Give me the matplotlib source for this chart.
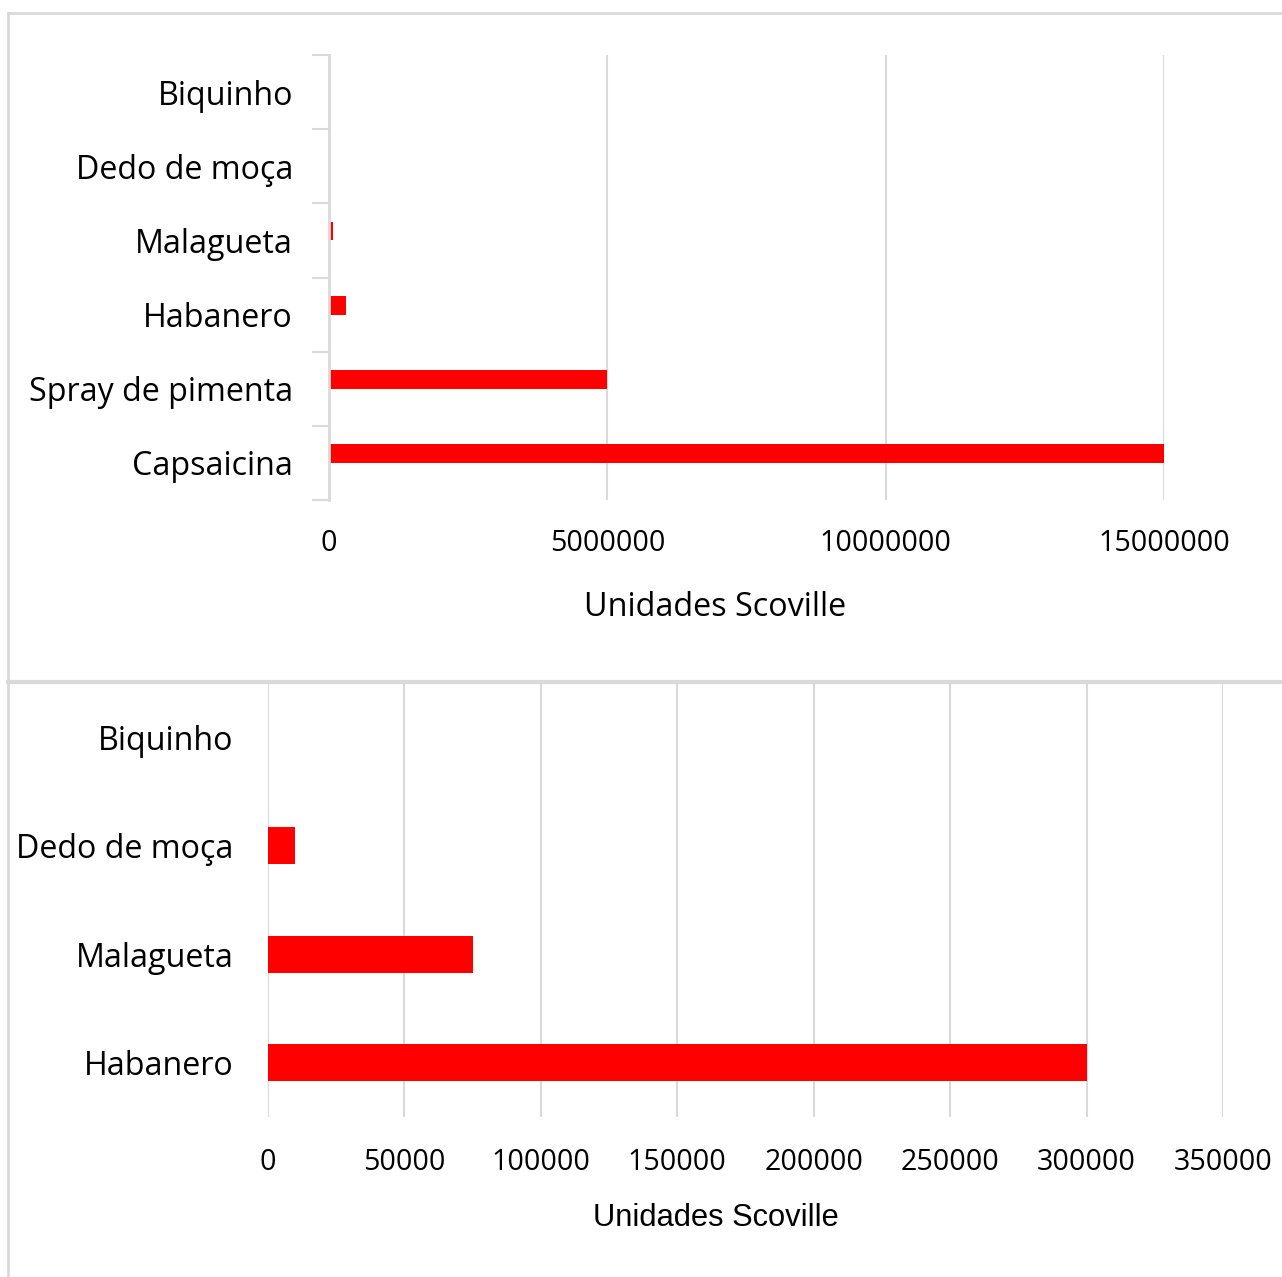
import matplotlib
matplotlib.use("Agg")
import matplotlib.pyplot as plt
from matplotlib.lines import Line2D
import numpy as np

# ---- data ----
top_categories = ["Capsaicina", "Spray de pimenta", "Habanero", "Malagueta", "Dedo de moça", "Biquinho"]
top_values = [15000000, 5000000, 300000, 75000, 10000, 0]
top_ticks = [0, 5000000, 10000000, 15000000]

bottom_categories = ["Habanero", "Malagueta", "Dedo de moça", "Biquinho"]
bottom_values = [300000, 75000, 10000, 0]
bottom_ticks = [0, 50000, 100000, 150000, 200000, 250000, 300000, 350000]

xlabel = "Unidades Scoville"

W, H = 1282, 1277
DPI = 100
fig = plt.figure(figsize=(W / DPI, H / DPI), dpi=DPI)
fig.patch.set_facecolor("white")

GRAY = "#d9d9d9"
RED = "#ff0000"
FONT = ["Open Sans", "DejaVu Sans"]
FS_CAT = 23.2
FS_TICK = 20.6
FS_LAB = 23.3


def px_axes(left, top, right, bottom):
    return fig.add_axes([left / W, 1 - bottom / H, (right - left) / W, (bottom - top) / H])


# frame lines
fig.add_artist(Line2D([8 / W, 1], [1 - 13 / H, 1 - 13 / H], color=GRAY, lw=2, transform=fig.transFigure))
fig.add_artist(Line2D([8 / W, 8 / W], [0, 1 - 13 / H], color=GRAY, lw=2, transform=fig.transFigure))
fig.add_artist(Line2D([8 / W, 1], [1 - 682 / H, 1 - 682 / H], color=GRAY, lw=3, transform=fig.transFigure))

# ---- top chart ----
ax1 = px_axes(329, 55, 1164, 500)
n1 = len(top_categories)
y1 = np.arange(n1)
ax1.barh(y1, top_values, height=0.25, align="edge", color=RED, linewidth=0, zorder=3)
ax1.set_xlim(0, 15000000)
ax1.set_ylim(-0.5, n1 - 0.5)
ax1.set_xticks(top_ticks)
ax1.set_xticklabels([str(t) for t in top_ticks], fontsize=FS_TICK, family=FONT)
ax1.set_yticks(np.arange(-0.5, n1, 1.0), minor=False)
ax1.set_yticklabels([])
ax1.set_yticks(y1, minor=True)
ax1.set_yticklabels(top_categories, minor=True, fontsize=FS_CAT, family=FONT)
ax1.tick_params(axis="y", which="major", length=12, width=1.5, color=GRAY)
ax1.tick_params(axis="y", which="minor", length=0, pad=26)
ax1.tick_params(axis="x", length=0, pad=21)
ax1.grid(axis="x", color=GRAY, lw=1.5, zorder=0)
for s in ["top", "right", "bottom"]:
    ax1.spines[s].set_visible(False)
ax1.spines["left"].set_color(GRAY)
ax1.spines["left"].set_linewidth(2)
ax1.spines["left"].set_zorder(4)
fig.text(715 / W, 1 - 607 / H, xlabel, ha="center", va="center", fontsize=FS_LAB, family=FONT)

# ---- bottom chart ----
ax2 = px_axes(268, 683, 1223, 1117)
n2 = len(bottom_categories)
y2 = np.arange(n2)
ax2.barh(y2, bottom_values, height=0.34, color=RED, linewidth=0, zorder=3)
ax2.set_xlim(0, 350000)
ax2.set_ylim(-0.5, n2 - 0.5)
ax2.set_xticks(bottom_ticks)
ax2.set_xticklabels([str(t) for t in bottom_ticks], fontsize=FS_TICK, family=FONT)
ax2.set_yticks(y2)
ax2.set_yticklabels(bottom_categories, fontsize=FS_CAT, family=FONT)
ax2.tick_params(axis="y", length=0, pad=25)
ax2.tick_params(axis="x", length=0, pad=22)
ax2.grid(axis="x", color=GRAY, lw=1.5, zorder=0)
for s in ax2.spines.values():
    s.set_visible(False)
fig.text(716 / W, 1 - 1218 / H, xlabel, ha="center", va="center", fontsize=22.2,
         family=["Liberation Sans", "DejaVu Sans"])

fig.savefig("out.png", dpi=DPI, facecolor="white")
